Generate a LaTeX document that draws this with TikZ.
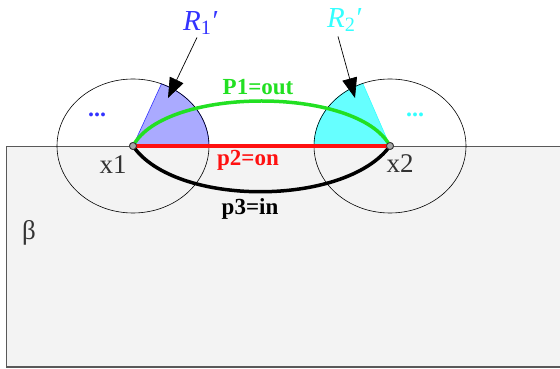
\documentclass[tikz,border=0pt]{standalone}
\usepackage{fontspec}
\setmainfont{Liberation Serif}
\usepackage{xcolor}
\usetikzlibrary{arrows.meta,positioning,calc}
\definecolor{regBlue}{HTML}{3333FF}
\definecolor{regLav}{HTML}{AAAAFF}
\definecolor{regCyan}{HTML}{33FFFF}
\definecolor{regCyanFill}{HTML}{66FFFF}
\definecolor{pathGreen}{HTML}{22E022}
\definecolor{pathRed}{HTML}{FF1010}
\definecolor{boxGray}{HTML}{F3F3F3}
\definecolor{textInk}{HTML}{333333}
\newcommand{\regname}[1]{{\itshape R}\textsubscript{#1}\kern1pt′}
\tikzset{
    >=Latex,
    endpt/.style={circle, draw=textInk, fill=gray!70, line width=0.8pt, minimum size=7pt, inner sep=0pt},
    nbhd/.style={draw=black, line width=0.6pt},
    pathlbl/.style={font=\fontsize{23}{25}\selectfont\bfseries},
    ptlbl/.style={font=\fontsize{27}{29}\selectfont, text=textInk},
    reglbl/.style={font=\fontsize{29}{31}\selectfont},
    dotlbl/.style={font=\fontsize{24}{26}\selectfont\bfseries},
    pointer/.style={-{Triangle[length=20pt,width=15pt]}, line width=0.7pt, draw=black},
    curvepath/.style={line width=3.5pt}
}
\begin{document}
\begin{tikzpicture}[x=1pt, y=1pt]
\useasboundingbox (0,0) rectangle (560,369);
\fill[boxGray] (6,2) rectangle (565,223);
\draw[gray!70!black, line width=0.7pt] (565,223) -- (6,223) -- (6,2);
\draw[gray!70!black, line width=1.6pt] (6,2) -- (565,2);
\coordinate (c1) at (133,223);
\coordinate (c2) at (390,223);
\filldraw[fill=regLav, draw=regBlue, line width=0.6pt] (c1) -- ($(c1)+(68:76 and 67)$) arc[start angle=68, end angle=0, x radius=76, y radius=67] -- cycle;
\filldraw[fill=regCyanFill, draw=regCyan, line width=0.6pt] (c2) -- ($(c2)+(111:76 and 67)$) arc[start angle=111, end angle=180, x radius=76, y radius=67] -- cycle;
\draw[nbhd] (c1) ellipse[x radius=76, y radius=67];
\draw[nbhd] (c2) ellipse[x radius=76, y radius=67];
\node[endpt] (x1) at (c1) {};
\node[endpt] (x2) at (c2) {};
\draw[curvepath, pathGreen] (x1.center) .. controls (165,283) and (358,283) .. (x2.center);
\draw[curvepath, black] (x1.center) .. controls (175,162) and (345,162) .. (x2.center);
\draw[curvepath, pathRed] (x1.center) -- (x2.center);
\node[endpt] at (c1) {};
\node[endpt] at (c2) {};
\node[pathlbl, text=pathGreen] (p1) at (258,282) {P1=out};
\node[pathlbl, text=pathRed] (p2) at (248,209) {p2=on};
\node[pathlbl, text=black] (p3) at (250,160) {p3=in};
\node[ptlbl] (x1lbl) at (113,204) {x1};
\node[ptlbl] (x2lbl) at (400,205) {x2};
\node[ptlbl] (beta) at (29,136) {β};
\node[dotlbl, text=regBlue] (dots1) at (97,254) {...};
\node[dotlbl, text=regCyan] (dots2) at (415,254) {...};
\node[reglbl, text=regBlue] (R1) at (201,346) {\regname{1}};
\node[reglbl, text=regCyan] (R2) at (345,349) {\regname{2}};
\coordinate (tip1) at (168,271);
\coordinate (tip2) at (355,271);
\draw[pointer] (R1.south) ++(-4,1) -- (tip1);
\draw[pointer] (R2.south) ++(-7,-1) -- (tip2);
\end{tikzpicture}
\end{document}
